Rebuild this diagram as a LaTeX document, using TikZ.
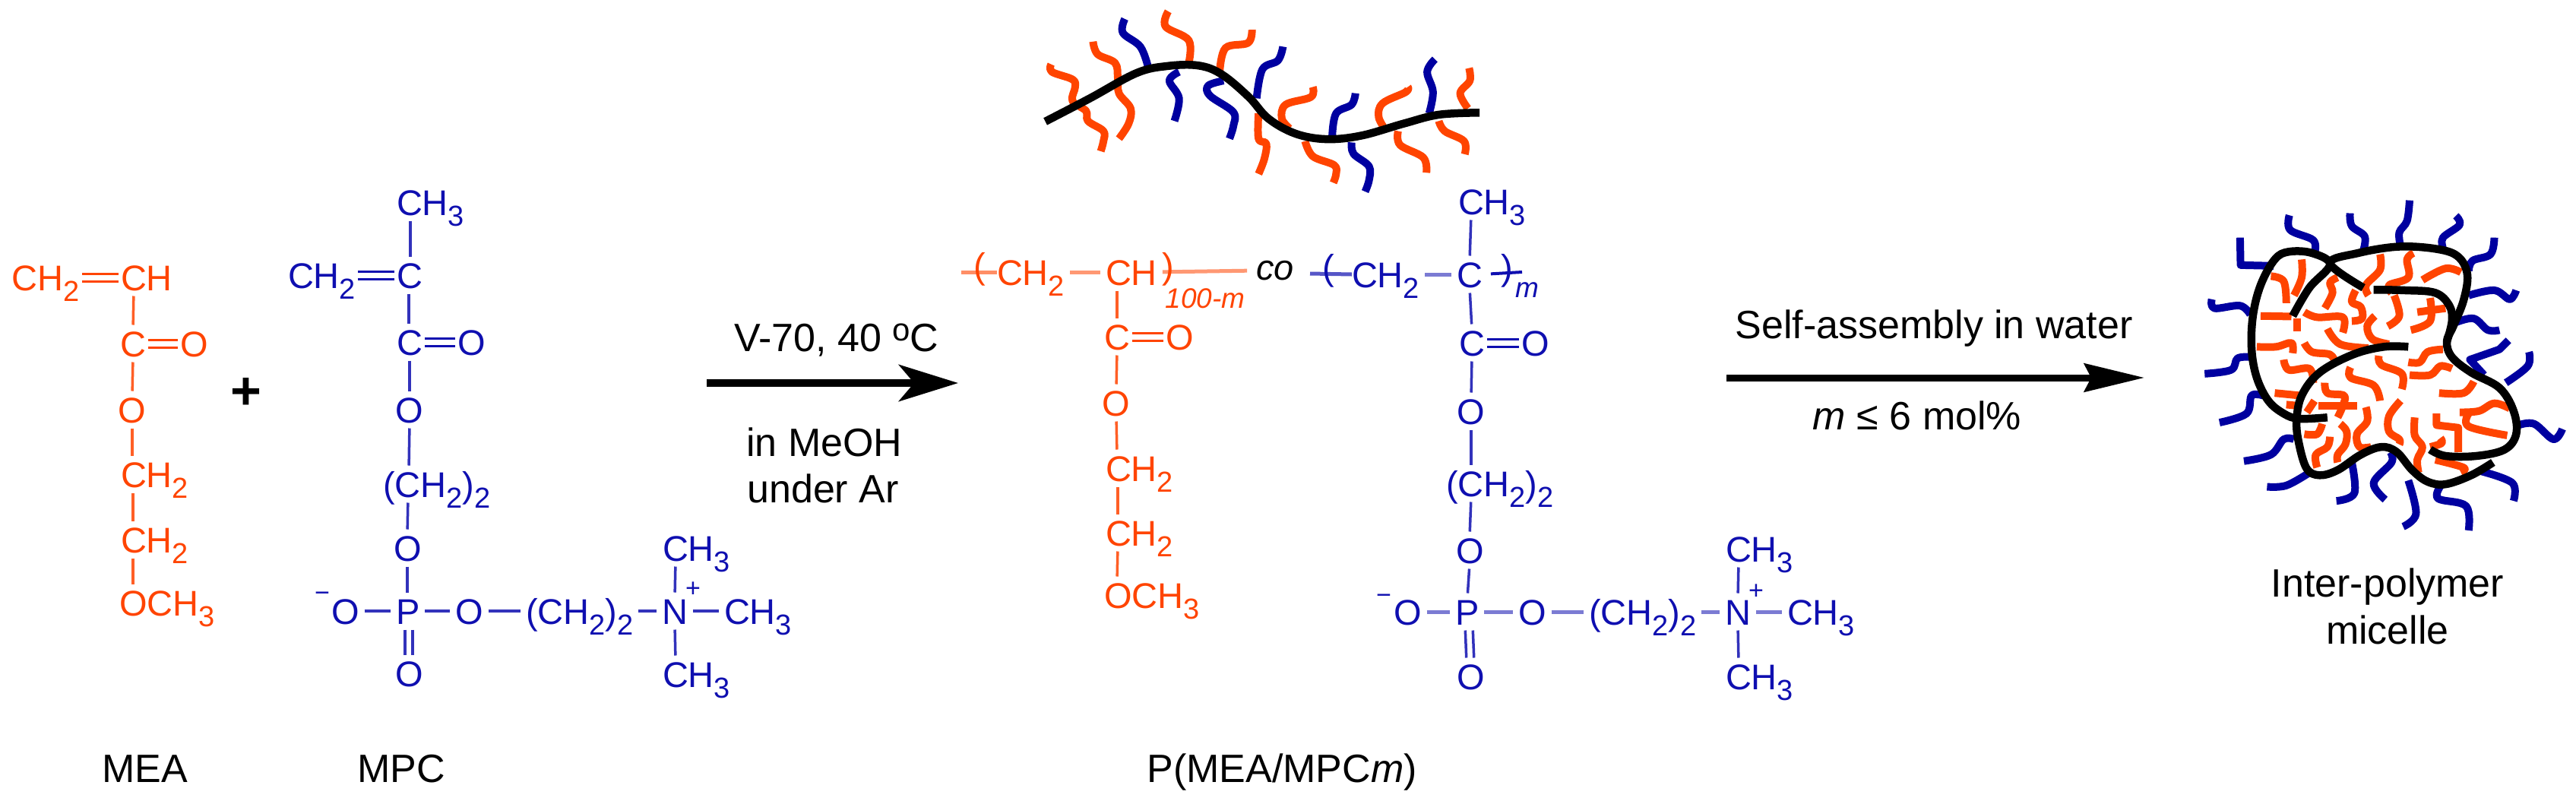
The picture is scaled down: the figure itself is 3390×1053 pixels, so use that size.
\documentclass[tikz,border=0pt]{standalone}
\usepackage{fontspec}
\setmainfont{Liberation Sans}
\usetikzlibrary{arrows.meta}
\definecolor{orC}{HTML}{FF4400}
\definecolor{blC}{HTML}{0F0FB0}
\definecolor{blT}{HTML}{0000A0}
\newcommand\subs[1]{\raisebox{-14pt}{\fontsize{38}{38}\selectfont #1}}
\newcommand\vb[4]{\draw[bond] ([xshift=#2pt]#1.south west) -- ([xshift=#4pt]#3.north west);}
\newcommand\hb[2]{\draw[bond] (#1.east) -- (#2.west);}
\newcommand\hbx[2]{\draw[bondx] (#1.east) -- (#2.west);}
\newcommand\hdb[2]{\draw[bond,opacity=1,line width=3pt,shorten <=3pt,shorten >=3pt] ([yshift=5pt]#1.east) -- ([yshift=5pt]#2.west);\draw[bond,opacity=1,line width=3pt,shorten <=3pt,shorten >=3pt] ([yshift=-5pt]#1.east) -- ([yshift=-5pt]#2.west);}
\newcommand\vdb[4]{\draw[bond] ([xshift=#2pt-5pt]#1.south west) -- ([xshift=#4pt-5pt]#3.north west);\draw[bond] ([xshift=#2pt+5pt]#1.south west) -- ([xshift=#4pt+5pt]#3.north west);}
\newcommand\crv[2]{\draw[#1] plot[smooth,tension=.6] coordinates {#2};}
\tikzset{
 chem/.style={inner sep=0pt,outer sep=0pt,anchor=west,text height=35pt,text depth=0pt,font=\fontsize{47}{50}\selectfont},
 small/.style={inner sep=0pt,outer sep=0pt,anchor=center,font=\fontsize{34}{34}\selectfont},
 paren/.style={inner sep=0pt,outer sep=0pt,anchor=center,font=\fontsize{47}{50}\selectfont},
 lab/.style={inner sep=0pt,outer sep=0pt,anchor=center,text height=37pt,text depth=0pt,font=\fontsize{52}{54}\selectfont,text=black},
 bond/.style={line width=3.5pt,opacity=.85,shorten <=7pt,shorten >=7pt},
 bondx/.style={line width=5pt,opacity=.55,shorten <=7pt,shorten >=7pt},
 otail/.style={line width=10pt,orC,line join=round},
 btail/.style={line width=10pt,blT,line join=round},
 bchain/.style={line width=10.5pt,black,line join=round},
 rxna/.style={line width=10pt,-{Stealth[length=78pt,width=48pt,inset=20pt]}},
 rxnb/.style={line width=9pt,-{Stealth[length=79pt,width=37pt,inset=9pt]}},
}
\begin{document}
\begin{tikzpicture}[x=1pt,y=-1pt]
\useasboundingbox (0,0) rectangle (3390,1053);
\fill[white] (0,0) rectangle (3390,1053);
% MEA
\begin{scope}[color=orC]
\node[chem] (e1) at (16,365) {CH\subs2};
\node[chem] (e2) at (159,365) {CH};
\node[chem] (e3) at (158,452) {C};
\node[chem] (e4) at (237,452) {O};
\node[chem] (e5) at (155,539) {O};
\node[chem] (e6) at (159,624) {CH\subs2};
\node[chem] (e7) at (159,710) {CH\subs2};
\node[chem] (e8) at (157,793) {OCH\subs3};
\hdb{e1}{e2}
\hdb{e3}{e4}
\vb{e2}{17}{e3}{17}
\vb{e3}{17}{e5}{19}
\vb{e5}{19}{e6}{15}
\vb{e6}{16}{e7}{16}
\vb{e7}{16}{e8}{18}
\end{scope}
\node[inner sep=0pt,font=\fontsize{70}{70}\selectfont\bfseries] (plus) at (324,518) {+};
% MPC
\begin{scope}[color=blC]
\node[chem] (m1) at (522,266) {CH\subs3};
\node[chem] (m2) at (379,362) {CH\subs2};
\node[chem] (m3) at (522,362) {C};
\node[chem] (m4) at (522,450) {C};
\node[chem] (m5) at (602,450) {O};
\node[chem] (m6) at (520,539) {O};
\node[chem] (m7) at (504,637) {(CH\subs2)\subs2};
\node[chem] (m8) at (518,721) {O};
\node[chem] (m9) at (521,804) {P};
\node[chem] (m10) at (436,804) {O};
\node[small] (m11) at (424,785) {−};
\node[chem] (m12) at (599,804) {O};
\node[chem] (m13) at (692,804) {(CH\subs2)\subs2};
\node[chem] (m14) at (871,804) {N};
\node[small] (m15) at (912,776) {+};
\node[chem] (m16) at (953,804) {CH\subs3};
\node[chem] (m17) at (872,721) {CH\subs3};
\node[chem] (m18) at (872,887) {CH\subs3};
\node[chem] (m19) at (520,886) {O};
\hdb{m2}{m3}
\hdb{m4}{m5}
\vb{m1}{18}{m3}{18}
\vb{m3}{16}{m4}{16}
\vb{m4}{17}{m6}{19}
\vb{m6}{19}{m7}{34}
\vb{m7}{33}{m8}{18}
\vb{m8}{18}{m9}{15}
\vdb{m9}{17}{m19}{18}
\hb{m10}{m9}
\hb{m9}{m12}
\hb{m12}{m13}
\hb{m13}{m14}
\hb{m14}{m16}
\vb{m17}{17}{m14}{17}
\vb{m14}{17}{m18}{17}
\end{scope}
\node[lab] (lmea) at (191,1011) {MEA};
\node[lab] (lmpc) at (528,1011) {MPC};
% arrow 1
\coordinate (a1s) at (930,504);
\coordinate (a1e) at (1261,504);
\draw[rxna] (a1s) -- (a1e);
\node[lab] (t1) at (1101,444) {V-70, 40 \raisebox{14pt}{\fontsize{42}{42}\selectfont o}C};
\node[lab] (t2) at (1085,582) {in MeOH};
\node[lab] (t3) at (1083,643) {under Ar};
% copolymer orange
\begin{scope}[color=orC]
\coordinate (ol) at (1265,358);
\node[paren] (op1) at (1289,354) {(};
\node[chem] (o1) at (1312,358) {CH\subs2};
\node[chem] (o2) at (1455,358) {CH};
\node[paren] (op2) at (1537,354) {)};
\node[small,font=\fontsize{37}{37}\selectfont\itshape] (o9) at (1586,393) {100-m};
\node[chem] (o3) at (1453,443) {C};
\node[chem] (o4) at (1534,443) {O};
\node[chem] (o5) at (1450,530) {O};
\node[chem] (o6) at (1455,616) {CH\subs2};
\node[chem] (o7) at (1455,701) {CH\subs2};
\node[chem] (o8) at (1453,783) {OCH\subs3};
\draw[line width=5pt,opacity=.6] (ol) -- (o1.west);
\hbx{o1}{o2}
\hdb{o3}{o4}
\vb{o2}{15}{o3}{17}
\vb{o3}{17}{o5}{19}
\vb{o5}{19}{o6}{15}
\vb{o6}{16}{o7}{16}
\vb{o7}{16}{o8}{17}
\end{scope}
\node[inner sep=0pt,outer sep=0pt,anchor=center,font=\fontsize{47}{50}\selectfont\itshape] (co) at (1678,356) {co};
\draw[bondx,orC,shorten >=12pt] (o2.east) -- (co.west);
% copolymer blue
\begin{scope}[color=blC]
\coordinate (bl) at (1724,360);
\coordinate (br) at (2003,358);
\node[paren] (bp1) at (1748,356) {(};
\node[chem] (b1) at (1779,361) {CH\subs2};
\node[chem] (b2) at (1917,361) {C};
\node[paren] (bp2) at (1983,356) {)};
\node[small,font=\fontsize{37}{37}\selectfont\itshape] (b0) at (2010,382) {m};
\node[chem] (b3) at (1919,265) {CH\subs3};
\node[chem] (b4) at (1920,451) {C};
\node[chem] (b5) at (2002,451) {O};
\node[chem] (b6) at (1917,541) {O};
\node[chem] (b7) at (1903,636) {(CH\subs2)\subs2};
\node[chem] (b8) at (1916,724) {O};
\node[chem] (b9) at (1915,805) {P};
\node[chem] (b10) at (1834,805) {O};
\node[small] (b11) at (1821,788) {−};
\node[chem] (b12) at (1998,805) {O};
\node[chem] (b13) at (2091,805) {(CH\subs2)\subs2};
\node[chem] (b14) at (2270,805) {N};
\node[small] (b15) at (2311,779) {+};
\node[chem] (b16) at (2352,805) {CH\subs3};
\node[chem] (b17) at (2271,722) {CH\subs3};
\node[chem] (b18) at (2271,890) {CH\subs3};
\node[chem] (b19) at (1917,890) {O};
\draw[line width=5pt,opacity=.7] (bl) -- (b1.west);
\hbx{b1}{b2}
\draw[line width=4pt,shorten <=11pt] (b2.east) -- (br);
\hdb{b4}{b5}
\vb{b3}{17}{b2}{17}
\vb{b2}{17}{b4}{17}
\vb{b4}{17}{b6}{19}
\vb{b6}{19}{b7}{33}
\vb{b7}{33}{b8}{18}
\vb{b8}{18}{b9}{16}
\vdb{b9}{18}{b19}{18}
\hbx{b10}{b9}
\hbx{b9}{b12}
\hbx{b12}{b13}
\hbx{b13}{b14}
\hbx{b14}{b16}
\vb{b17}{17}{b14}{17}
\vb{b14}{17}{b18}{17}
\end{scope}
\node[lab] (lp) at (1687,1011) {P(MEA/MPC\textit{m})};
% comb polymer
\begin{scope}[shift={(1220,0)},x=0.5102pt,y=-0.3317pt]
\crv{otail}{(320,255)(322,285)(375,315)(382,345)(375,400)(410,440)(415,480)(455,520)(455,560)(448,600)}
\crv{otail}{(428,165)(440,215)(485,250)(492,310)(495,370)(525,430)(520,490)(495,550)}
\crv{btail}{(510,75)(505,130)(550,185)(570,265)}
\crv{btail}{(650,285)(625,320)(650,390)(638,480)}
\crv{otail}{(622,45)(615,105)(675,160)(675,250)}
\crv{otail}{(838,118)(828,170)(770,190)(755,280)}
\crv{btail}{(765,320)(725,340)(730,380)(790,445)(790,500)(780,550)}
\crv{btail}{(918,185)(905,240)(865,275)(850,390)}
\crv{otail}{(855,450)(855,550)(875,570)(870,630)(855,690)}
\crv{otail}{(995,345)(990,385)(925,415)(915,470)(935,510)}
\crv{otail}{(975,560)(995,620)(1050,655)(1055,690)(1048,725)}
\crv{btail}{(1105,370)(1095,415)(1055,450)(1045,540)}
\crv{btail}{(1095,565)(1100,610)(1140,660)(1140,715)(1130,760)}
\crv{otail}{(1240,345)(1235,365)(1175,410)(1165,465)(1185,520)}
\crv{otail}{(1215,520)(1220,575)(1280,625)(1288,685)}
\crv{btail}{(1310,235)(1290,285)(1305,365)(1295,450)}
\crv{otail}{(1398,270)(1400,320)(1375,370)(1395,430)}
\crv{otail}{(1320,480)(1335,520)(1385,560)(1387,612)}
\crv{bchain}{(305,482)(420,390)(540,290)(620,262)(700,260)(760,295)(830,385)(880,470)(950,530)(1030,552)(1120,538)(1230,490)(1320,455)(1425,447)}
\end{scope}
% arrow 2
\coordinate (a2s) at (2272,497);
\coordinate (a2e) at (2822,497);
\draw[rxnb] (a2s) -- (a2e);
\node[lab] (t4) at (2545,427) {Self-assembly in water};
\node[lab] (t5) at (2523,547) {\textit{m} ≤ 6 mol\%};
\node[lab] (t6) at (3142,767) {Inter-polymer};
\node[lab] (t7) at (3142,829) {micelle};
% micelle
\begin{scope}[shift={(2860,240)},x=0.338pt,y=-0.338pt]
\draw[btail] plot coordinates {(260,215)(262,322)(390,325)};
\crv{btail}{(452,128)(455,185)(545,225)(550,275)}
\crv{btail}{(688,120)(695,170)(745,210)(740,265)}
\crv{btail}{(920,70)(910,150)(880,195)(885,250)}
\crv{btail}{(1100,130)(1115,165)(1050,215)(1050,255)}
\crv{btail}{(1250,215)(1235,280)(1165,305)(1150,345)}
\crv{btail}{(1335,420)(1310,455)(1250,420)(1150,440)}
\crv{btail}{(1270,575)(1225,575)(1170,530)(1100,545)}
\draw[btail] plot coordinates {(1305,615)(1270,650)(1155,690)(1210,750)};
\crv{btail}{(1385,660)(1380,715)(1295,780)}
\crv{btail}{(1515,960)(1480,1000)(1405,940)(1345,945)}
\crv{btail}{(1325,1240)(1320,1170)(1200,1125)}
\crv{btail}{(1150,1355)(1140,1260)(1030,1230)(1045,1175)}
\crv{btail}{(895,1340)(945,1290)(915,1160)}
\crv{btail}{(825,1235)(780,1170)(850,1090)(845,1050)}
\crv{btail}{(635,1240)(705,1210)(695,1090)}
\crv{btail}{(365,1185)(440,1180)(530,1130)}
\crv{btail}{(275,1085)(380,1060)(430,1000)(470,1000)}
\crv{btail}{(180,935)(285,900)(305,830)(350,830)}
\crv{btail}{(122,745)(225,730)(250,685)(300,680)}
\crv{btail}{(150,455)(160,490)(260,480)(300,515)}
\crv{otail}{(380,365)(430,385)(440,470)}
\crv{otail}{(500,300)(500,370)(470,440)}
\crv{otail}{(340,520)(460,522)}
\crv{otail}{(483,530)(483,578)}
\crv{otail}{(510,505)(560,525)(660,525)(660,585)}
\crv{otail}{(640,370)(610,390)(620,430)(590,490)}
\crv{otail}{(710,420)(695,465)(730,485)(735,530)(695,540)}
\crv{otail}{(805,280)(805,340)(750,400)(760,440)}
\crv{otail}{(935,275)(910,300)(915,370)(840,400)(850,430)}
\crv{otail}{(1120,350)(1060,335)(970,380)}
\crv{otail}{(860,440)(880,520)(835,560)}
\crv{otail}{(1000,450)(1000,540)(925,575)}
\crv{otail}{(950,505)(1060,490)}
\crv{otail}{(785,520)(755,560)(775,610)(840,630)}
\crv{otail}{(600,570)(650,630)(760,645)}
\crv{otail}{(325,640)(400,640)(460,625)(465,665)}
\crv{otail}{(510,625)(540,660)(610,670)(630,700)}
\crv{otail}{(430,690)(450,730)(530,725)(545,780)}
\crv{otail}{(1050,650)(990,660)(960,700)(915,700)}
\crv{otail}{(1085,725)(1040,715)(1000,750)(920,750)}
\crv{otail}{(800,675)(810,710)(890,745)(890,805)}
\crv{otail}{(690,720)(690,760)(780,790)(805,850)}
\crv{otail}{(1170,775)(1130,820)(1035,820)}
\crv{otail}{(590,780)(600,820)(665,830)(660,870)(640,915)}
\crv{otail}{(565,870)(715,870)}
\crv{otail}{(395,820)(495,830)}
\crv{otail}{(440,865)(490,870)}
\crv{otail}{(550,850)(520,895)}
\crv{otail}{(885,850)(840,910)(840,970)(880,1000)(880,1020)}
\crv{otail}{(750,875)(755,930)(715,980)(725,1030)(770,1030)}
\crv{otail}{(940,915)(940,985)(970,1030)(950,1080)(955,1130)}
\draw[otail] plot coordinates {(1025,900)(1025,945)(1110,955)(1110,1050)};
\crv{otail}{(1040,995)(1045,1015)(1000,1030)}
\crv{otail}{(1115,895)(1190,890)(1250,860)(1310,880)}
\crv{otail}{(1150,900)(1150,950)(1300,985)}
\crv{otail}{(510,980)(560,980)(580,940)}
\crv{otail}{(650,940)(675,970)(670,1020)(640,1060)(640,1090)}
\crv{otail}{(610,990)(600,1030)(555,1060)(560,1110)}
\crv{otail}{(1020,1080)(1130,1110)(1120,1130)}
\crv{bchain}{(465,520)(530,410)(610,320)(540,275)(450,270)(395,300)(340,400)(310,520)(305,650)(325,760)(370,850)(430,900)(490,920)(600,915)}
\crv{bchain}{(740,410)(610,315)(720,275)(880,250)(1030,260)(1110,290)(1145,360)(1130,460)(1090,560)(1065,620)(1085,680)(1160,740)(1270,800)(1325,890)(1335,980)(1290,1040)(1180,1065)(1060,1065)(1000,1040)}
\crv{bchain}{(1245,1090)(1160,1140)(1060,1175)(990,1165)(930,1120)(870,1050)(810,1030)(730,1060)(640,1120)(570,1140)(520,1115)(490,1020)(480,930)(500,830)(570,740)(700,670)(820,640)(915,640)}
\crv{bchain}{(780,418)(900,420)(1020,430)(1075,480)(1085,540)(1065,620)}
\end{scope}
\end{tikzpicture}
\end{document}
